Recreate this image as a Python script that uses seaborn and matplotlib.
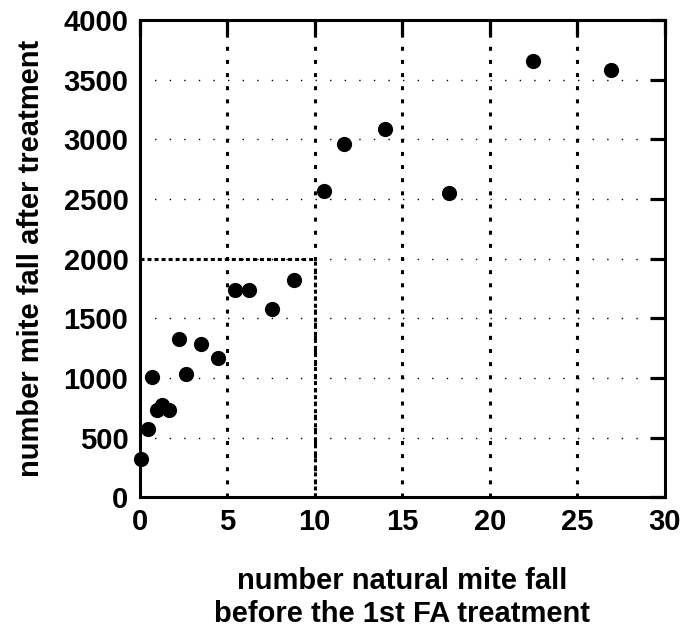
import numpy as np
import pandas as pd
import matplotlib
matplotlib.use("Agg")
import matplotlib.pyplot as plt
import seaborn as sns

# natural mite fall (before 1st FA treatment) vs mite fall after treatment
natural_fall = [0.1, 0.48, 0.72, 0.99, 1.27, 1.68, 2.25, 2.67, 3.49, 4.5,
                5.43, 6.27, 7.58, 8.82, 10.53, 11.66, 14.04, 17.66, 22.47, 26.9]
after_fall = [324, 568, 1004, 730, 771, 730, 1325, 1037, 1283, 1163,
              1733, 1733, 1579, 1820, 2566, 2963, 3083, 2552, 3654, 3581]

x_ticks = [0, 5, 10, 15, 20, 25, 30]
y_ticks = [0, 500, 1000, 1500, 2000, 2500, 3000, 3500, 4000]
threshold_x = 10
threshold_y = 2000

df = pd.DataFrame({"natural": natural_fall, "after": after_fall})

sns.set_style("ticks", {
    'xtick.direction': 'in', 'ytick.direction': 'in',
    'xtick.top': True, 'ytick.right': True,
    'xtick.bottom': False, 'ytick.left': False,
    'text.color': 'black', 'axes.labelcolor': 'black',
    'xtick.color': 'black', 'ytick.color': 'black',
    'axes.edgecolor': 'black',
})
plt.rcParams['font.family'] = ['Liberation Sans', 'DejaVu Sans']
plt.rcParams['font.weight'] = 'bold'

fig = plt.figure(figsize=(6.81, 6.27), dpi=100)
ax = fig.add_axes([0.205, 0.207, 0.7715, 0.761])

# grid: thick dashed verticals, fine dotted horizontals
for xv in x_ticks[1:-1]:
    ax.axvline(xv, color='black', lw=2.2, linestyle=(0, (1.3, 3.0)), zorder=1)
for yv in y_ticks[1:-1]:
    ax.axhline(yv, color='black', lw=1.0, linestyle=(0, (1, 9.5)), zorder=1)

# threshold box
ax.plot([0, threshold_x], [threshold_y, threshold_y], color='black', lw=2.2,
        linestyle=(0, (1.3, 1.0)), zorder=2)
ax.plot([threshold_x, threshold_x], [0, threshold_y], color='black', lw=2.2,
        linestyle=(0, (1.3, 1.0)), zorder=2)

sns.scatterplot(data=df, x="natural", y="after", ax=ax, color='black',
                s=120, edgecolor='black', linewidth=0, zorder=3, clip_on=False)

ax.set_xlim(0, 30)
ax.set_ylim(0, 4000)
ax.set_xticks(x_ticks)
ax.set_yticks(y_ticks)
ax.tick_params(axis='both', which='major', direction='in', length=11, width=2.3,
               labelsize=21, top=True, right=True, left=False, bottom=False,
               pad=8, color='black', labelcolor='black')
for lab in ax.get_xticklabels() + ax.get_yticklabels():
    lab.set_fontweight('bold')

for sp in ax.spines.values():
    sp.set_linewidth(2.2)
    sp.set_color('black')

ax.set_xlabel("number natural mite fall\nbefore the 1st FA treatment",
              fontsize=21, fontweight='bold', labelpad=22, linespacing=1.25)
ax.set_ylabel("number mite fall after treatment", fontsize=21,
              fontweight='bold', labelpad=13)

fig.savefig("out.png", dpi=100)
